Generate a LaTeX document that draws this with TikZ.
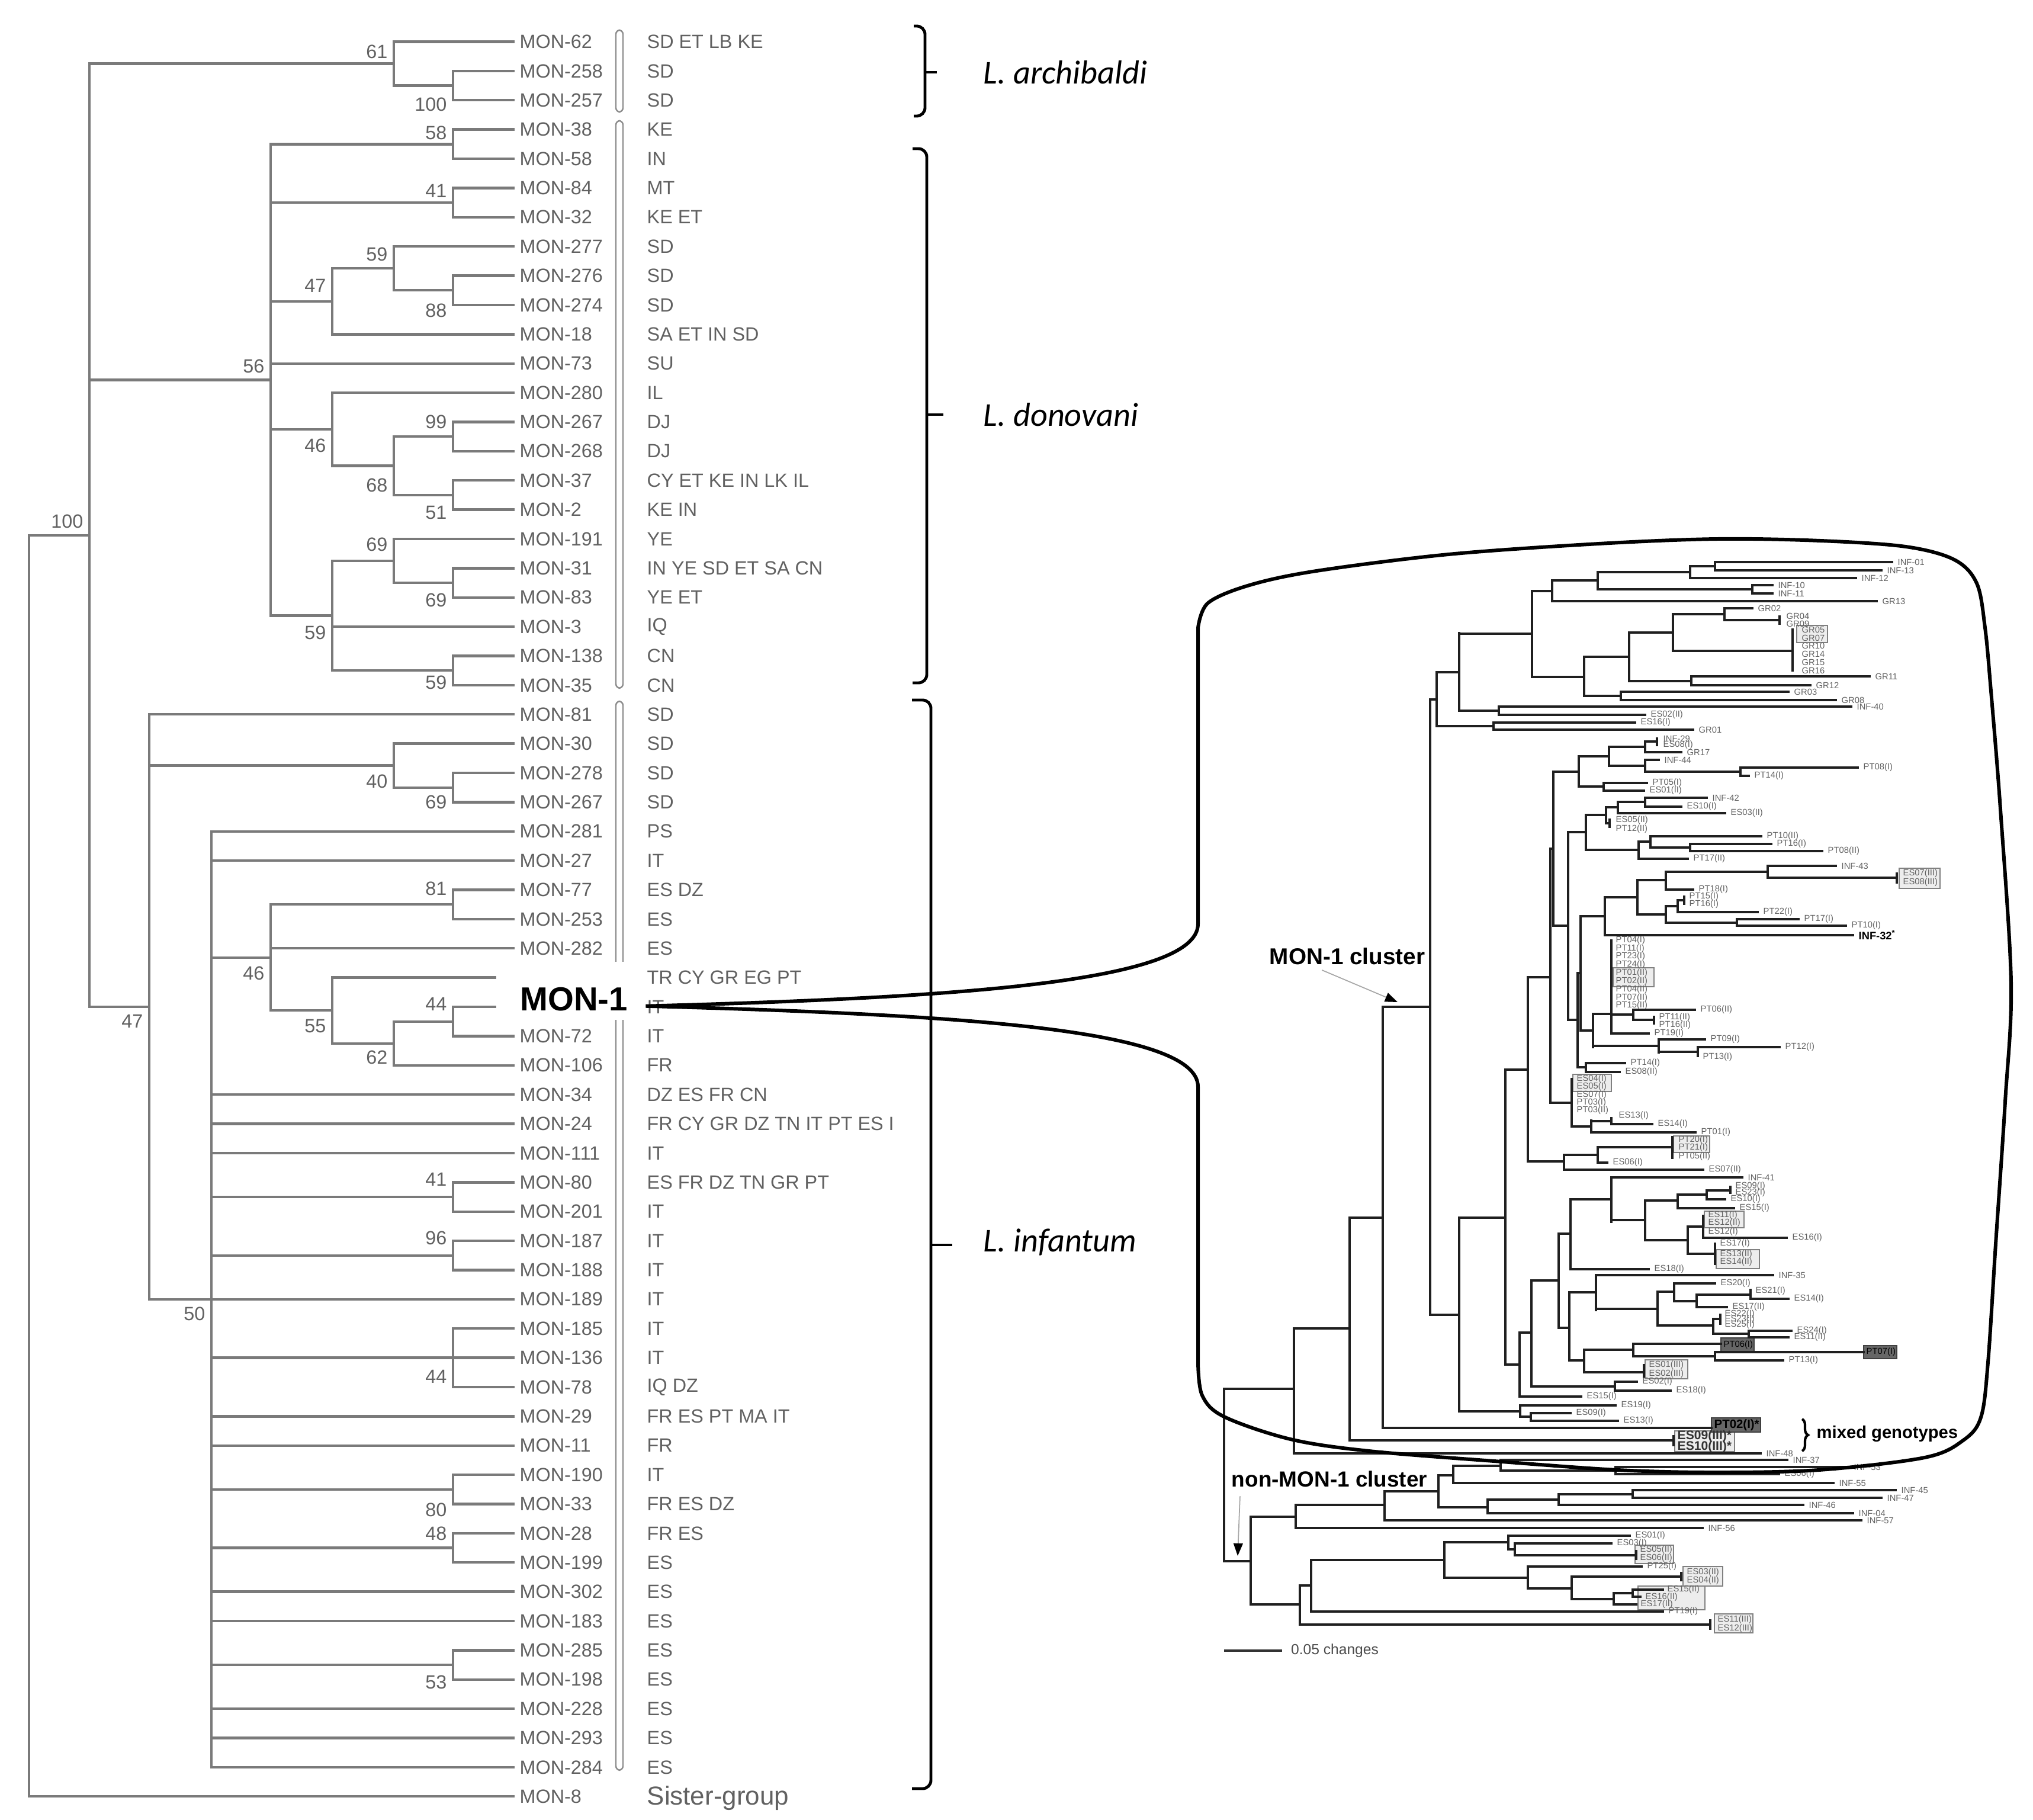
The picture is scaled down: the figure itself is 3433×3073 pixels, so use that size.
\documentclass[tikz,border=0pt]{standalone}
\usepackage{fontspec}
\setmainfont{Liberation Sans}
\newfontfamily\calfont{Carlito}
\usetikzlibrary{arrows.meta,decorations.pathreplacing}

\begin{document}
\begin{tikzpicture}[x=0.01cm,y=-0.01cm,
  br/.style={draw=black!52,line width=1.25pt,line cap=rect},
  rl/.style={draw=black!88,line width=0.95pt,line cap=rect},
  mon/.style={font=\fontsize{9.2}{10}\selectfont,text=black!62,anchor=west,inner sep=0pt},
  bs/.style={font=\fontsize{9.2}{10}\selectfont,text=black!62,anchor=east,inner sep=0pt},
  dbar/.style={draw=black!45,line width=0.7pt,rounded corners=2pt},
  brc/.style={line width=1.4pt,rounded corners=4pt},
  spc/.style={font=\calfont\itshape\fontsize{16}{18}\selectfont,anchor=west,inner sep=0pt},
  rlab/.style={font=\fontsize{4.2}{5}\selectfont,text=black!62,anchor=west,inner sep=0pt},
  lbox/.style={draw=black!50,fill=black!7,line width=0.4pt},
  dbox/.style={draw=black!75,fill=black!60,line width=0.4pt},
  clu/.style={font=\bfseries\fontsize{11}{13}\selectfont,inner sep=0pt},
  ptr/.style={draw=black!35,line width=0.5pt,-{Triangle[length=6pt,width=4.5pt,color=black]}},
  bag/.style={line width=1.7pt}
]
\useasboundingbox (0,0) rectangle (3433,3073);

\begin{scope}[y=-0.4935cm,yshift=-0.2115cm]
  \foreach \a/\b in {0.6/3.4,3.7/23.1,23.55/60.1}
    \draw[dbar] (1040,\a) rectangle (1052,\b);
  \foreach \x/\a/\b in {765/2/3,665/1/2.5,765/4/5,765/6/7,765/9/10,665/8/9.5,561/8.75/11,
    765/14/15,765/16/17,665/14.5/16.5,561/13/15.5,765/19/20,665/18/19.5,765/22/23,561/18.75/22.5,
    457/4.5/20.625,765/26/27,665/25/26.5,765/30/31,765/34/35,665/34.5/36,561/33/35.25,457/30.5/34.125,
    765/40/41,765/42/43,765/45/47,765/50/51,765/52/53,765/56/57,357/28/60,252/24/44,151/1.75/34,49/17.875/61}
    \draw[br] (\x,\a) -- (\x,\b);
  \foreach \a/\b/\r in {665/765/2.5,151/665/1.75,457/765/4.5,457/765/6.5,665/765/9.5,561/665/8.75,
    457/561/9.875,665/765/14.5,665/765/16.5,561/665/15.5,457/561/14.25,665/765/19.5,561/665/18.75,
    561/765/22.5,457/561/20.625,151/457/12.5625,665/765/26.5,252/665/25.75,457/765/30.5,665/765/34.5,
    561/665/35.25,457/561/34.125,357/457/32.3125,357/765/40.5,357/765/42.5,357/765/50.5,357/765/52.5,
    357/765/56.5,151/252/34,49/151/17.875}
    \draw[br] (\a,\r) -- (\b,\r);
  \foreach \r/\p/\nm/\cc in {1/665/MON-62/SD ET LB KE,2/765/MON-258/SD,3/765/MON-257/SD,4/765/MON-38/KE,
    5/765/MON-58/IN,6/765/MON-84/MT,7/765/MON-32/KE ET,8/665/MON-277/SD,9/765/MON-276/SD,10/765/MON-274/SD,
    11/561/MON-18/SA ET IN SD,12/457/MON-73/SU,13/561/MON-280/IL,14/765/MON-267/DJ,15/765/MON-268/DJ,
    16/765/MON-37/CY ET KE IN LK IL,17/765/MON-2/KE IN,18/665/MON-191/YE,19/765/MON-31/IN YE SD ET SA CN,
    20/765/MON-83/YE ET,21/561/MON-3/IQ,22/765/MON-138/CN,23/765/MON-35/CN,24/252/MON-81/SD,25/665/MON-30/SD,
    26/765/MON-278/SD,27/765/MON-267/SD,28/357/MON-281/PS,29/357/MON-27/IT,30/765/MON-77/ES DZ,
    31/765/MON-253/ES,32/457/MON-282/ES,33/561/{}/TR CY GR EG PT,34/765/{}/IT,35/765/MON-72/IT,
    36/665/MON-106/FR,37/357/MON-34/DZ ES FR CN,38/357/MON-24/FR CY GR DZ TN IT PT ES I,39/357/MON-111/IT,
    40/765/MON-80/ES FR DZ TN GR PT,41/765/MON-201/IT,42/765/MON-187/IT,43/765/MON-188/IT,44/252/MON-189/IT,
    45/765/MON-185/IT,46/357/MON-136/IT,47/765/MON-78/IQ DZ,48/357/MON-29/FR ES PT MA IT,49/357/MON-11/FR,
    50/765/MON-190/IT,51/765/MON-33/FR ES DZ,52/765/MON-28/FR ES,53/765/MON-199/ES,54/357/MON-302/ES,
    55/357/MON-183/ES,56/765/MON-285/ES,57/765/MON-198/ES,58/357/MON-228/ES,59/357/MON-293/ES,60/357/MON-284/ES}{
    \draw[br] (\p,\r) -- (867,\r);
    \node[mon] (m\r) at (877,\r) {\nm};
    \node[mon] (c\r) at (1092,\r) {\cc};
  }
  \draw[br] (49,61) -- (867,61);
  \node[mon] (m61) at (877,61) {MON-8};
  \node[mon,font=\fontsize{12.5}{14}\selectfont] (c61) at (1092,61.05) {Sister-group};
  \foreach \x/\r/\v [count=\k] in {665/1.35/61,765/3.15/100,765/4.12/58,765/6.1/41,665/8.27/59,561/9.35/47,
    765/10.2/88,457/12.1/56,765/14.0/99,561/14.8/46,665/16.16/68,765/17.1/51,665/18.2/69,765/20.1/69,
    561/21.2/59,765/22.9/59,151/17.4/100,665/26.3/40,765/27.0/69,765/29.95/81,457/32.85/46,765/33.9/44,
    561/34.65/55,665/35.73/62,252/34.5/47,765/39.9/41,765/41.9/96,357/44.5/50,765/46.65/44,765/51.2/80,
    765/52.0/48,765/57.1/53}
    \node[bs] (bs\k) at (\x-10,\r) {\v};
  \fill[white] (838,32.45) rectangle (1066,34.45);
  \node[font=\bfseries\fontsize{16}{18}\selectfont,inner sep=0pt] (mon1) at (969,33.73) {MON-1};
\end{scope}

\draw[brc] (1543,44) -- (1562,44) -- (1562,196) -- (1543,196);
\draw[brc] (1562,122) -- (1582,122);
\draw[brc] (1541,251) -- (1565,251) -- (1565,1153) -- (1541,1153);
\draw[brc] (1565,700) -- (1593,700);
\draw[brc] (1540,1182) -- (1572,1182) -- (1572,3020) -- (1540,3020);
\draw[brc] (1572,2102) -- (1608,2102);
\node[spc] (sp1) at (1660,122) {L. archibaldi};
\node[spc] (sp2) at (1660,700) {L. donovani};
\node[spc] (sp3) at (1660,2097) {L. infantum};

\foreach \a/\b/\c/\d in {3034/1056/3086/1085,3207/1466/3276/1500,2724/1634/2793/1666,2656/1814/2721/1843,
  2826/1918/2887/1946,2878/2045/2945/2073,2898/2110/2971/2142,2778/2296/2850/2328,2828/2416/2929/2451,
  2761/2609/2826/2640,2842/2645/2909/2678,2766/2678/2879/2718,2895/2725/2960/2757}
  \draw[lbox] (\a,\b) rectangle (\c,\d);
\foreach \a/\b/\c/\d in {2906/2259/2962/2283,3147/2272/3203/2294,2890/2394/2973/2418}
  \draw[dbox] (\a,\b) rectangle (\c,\d);

\foreach \x/\a/\b in {2896/949/963,2854/956/976,2959/988/1002,2698/966/995,2621/980/1015,2587/998/1143,
  2912/1027/1047,3005/1041/1053,2825/1037/1099,3027/1063/1132,2751/1068/1150,2856/1142/1157,2675/1109/1175,
  2737/1168/1182,2464/1069/1200,2531/1193/1207,2426/1135/1226,2522/1220/1232,2415/1181/2220,
  2798/1247/1258,2778/1252/1270,2717/1261/1293,2778/1283/1303,2939/1296/1310,2666/1277/1328,2708/1322/1335,
  2623/1303/1563,2778/1347/1362,2732/1354/1373,2712/1363/1390,2718/1384/1396,2678/1376/1435,2767/1421/1450,
  2787/1412/1431,2854/1425/1437,2648/1405/1722,
  2985/1462/1482,3203/1475/1490,2813/1472/1502,2765/1486/1544,2844/1514/1526,2833/1520/1540,2933/1552/1563,
  2813/1530/1558,2710/1515/1579,2669/1547/1740,2721/1588/1745,2758/1705/1722,2793/1717/1728,2690/1712/1768,
  2801/1755/1777,2867/1768/1783,2664/1643/1802,2678/1795/1810,2618/1433/1862,2654/1822/1902,2721/1888/1898,
  2687/1892/1912,2580/1650/1961,2824/1920/1955,2698/1937/1963,2641/1950/1975,
  2542/1806/2304,2566/2250/2358,2586/2162/2341,2632/2083/2242,2652/2025/2143,2721/1988/2063,2778/2027/2094,
  2833/2017/2040,2882/2010/2025,2922/2004/2014,2850/2071/2117,2876/2053/2090,2896/2100/2134,2650/2182/2297,
  2695/2153/2212,2799/2181/2238,2827/2167/2197,2865/2186/2207,2956/2178/2193,2893/2227/2252,2905/2220/2235,
  2953/2247/2258,2675/2279/2317,2758/2269/2290,2896/2283/2297,2776/2305/2325,2727/2333/2348,2567/2373/2392,
  2585/2386/2399,2464/2056/2383,2335/1700/2411,2279/2056/2432,2826/2425/2440,2185/2243/2454,2067/2345/2636,
  2112/2561/2709,2188/2541/2580,2338/2518/2567,2429/2491/2545,2454/2475/2504,2534/2465/2483,2728/2477/2489,
  2512/2532/2555,2632/2523/2541,2757/2516/2529,2195/2677/2743,2888/2736/2750,2214/2634/2721,2439/2604/2664,
  2547/2593/2616,2558/2606/2626,2763/2619/2632,2580/2645/2682,2654/2662/2700,2839/2656/2668,2725/2690/2709,
  2757/2684/2696}
  \draw[rl] (\x,\a) -- (\x,\b);
\foreach \a/\b/\y in {2854/2896/956,2698/2854/966,2698/2959/995,2621/2698/980,2587/2621/998,2464/2587/1070,
  2825/2912/1037,2751/2825/1068,2825/3027/1099,2675/2751/1109,2751/2856/1150,2675/2737/1175,2587/2675/1143,
  2464/2531/1200,2426/2464/1135,2426/2522/1226,2415/2426/1181,2912/3005/1047,
  2778/2798/1252,2717/2778/1261,2717/2778/1293,2778/2939/1303,2666/2717/1277,2666/2708/1328,2623/2666/1303,
  2732/2778/1354,2712/2732/1363,2712/2718/1390,2678/2712/1376,2678/2767/1435,2767/2787/1421,2787/2854/1431,
  2648/2678/1405,2623/2648/1563,2618/2623/1433,
  2985/3203/1482,2813/2985/1472,2765/2813/1486,2833/2844/1520,2813/2833/1530,2813/2933/1558,2765/2813/1544,
  2710/2765/1515,2669/2710/1547,2721/2758/1713,2758/2793/1722,2690/2721/1712,2690/2801/1766,2801/2867/1776,
  2669/2690/1740,2664/2669/1643,2664/2678/1802,2648/2664/1722,2618/2654/1862,2654/2687/1902,2687/2721/1893,
  2580/2618/1650,2698/2824/1937,2641/2698/1950,2580/2641/1961,2542/2580/1806,
  2464/2542/2056,2542/2566/2304,2566/2586/2250,2586/2632/2162,2632/2652/2083,2652/2721/2025,2721/2778/2060,
  2778/2833/2027,2833/2882/2017,2882/2922/2010,2778/2850/2094,2850/2876/2071,2850/2896/2117,2632/2650/2242,
  2650/2695/2182,2695/2799/2210,2799/2827/2181,2827/2865/2197,2865/2956/2186,2799/2893/2238,2893/2905/2227,
  2893/2953/2252,2650/2675/2297,2675/2758/2279,2758/2896/2290,2675/2776/2317,2586/2727/2341,2464/2567/2383,
  2567/2585/2392,2415/2464/2220,2335/2415/1700,2279/2335/2056,2279/2826/2432,2185/2279/2243,2067/2185/2345,
  2067/2112/2636,2758/2906/2269,2896/3147/2283,2335/2890/2411,
  2112/2188/2561,2188/2338/2541,2338/2429/2518,2429/2454/2491,2454/2534/2475,2534/2728/2483,2429/2512/2545,
  2512/2632/2532,2632/2757/2523,2112/2195/2709,2195/2214/2677,2214/2439/2634,2439/2547/2604,2547/2558/2616,
  2558/2763/2626,2439/2580/2664,2580/2654/2682,2654/2839/2662,2654/2725/2700,2725/2757/2690,2757/2808/2684,
  2757/2770/2696,2725/2763/2709,2195/2888/2743}
  \draw[rl] (\a,\y) -- (\b,\y);
\foreach \a/\b/\y/\t [count=\k] in {2896/3195/949/INF-01,2896/3177/963/INF-13,2854/3134/976/INF-12,
  2959/2993/988/INF-10,2959/2993/1002/INF-11,2621/3169/1015/GR13,2912/2959/1027/GR02,2856/3157/1142/GR11,
  2856/3057/1157/GR12,2737/3020/1168/GR03,2737/3100/1182/GR08,2531/3126/1193/INF-40,2531/2778/1207/ES02(II),
  2522/2761/1220/ES16(I),2522/2859/1232/GR01,2778/2839/1270/GR17,2778/2801/1283/INF-44,2939/3137/1296/PT08(I),
  2939/2953/1310/PT14(I),2708/2781/1322/PT05(I),2708/2776/1335/ES01(II),2778/2882/1347/INF-42,
  2778/2839/1362/ES10(I),2732/2913/1373/ES03(II),2787/2974/1412/PT10(II),2854/2991/1425/PT16(I),
  2854/3077/1437/PT08(II),2767/2850/1450/PT17(II),2985/3100/1462/INF-43,2813/2859/1502/PT18(I),
  2833/2968/1540/PT22(I),2933/3037/1552/PT17(I),2933/3117/1563/PT10(I),2758/2862/1705/PT06(II),
  2721/2784/1745/PT19(I),2801/2879/1755/PT09(I),2867/3005/1768/PT12(I),2678/2744/1795/PT14(I),
  2678/2735/1810/ES08(II),2721/2790/1898/ES14(I),2687/2863/1912/PT01(I),2698/2714/1963/ES06(I),
  2641/2876/1975/ES07(II),2721/2942/1988/INF-41,2882/2913/2025/ES10(I),2833/2928/2040/ES15(I),
  2876/3017/2090/ES16(I),2652/2784/2143/ES18(I),2695/2994/2153/INF-35,2827/2896/2167/ES20(I),
  2956/3020/2193/ES14(I),2865/2916/2207/ES17(II),2953/3025/2247/ES24(I),2953/3020/2258/ES11(II),
  2896/3011/2297/PT13(I),2727/2764/2333/ES02(I),2727/2821/2348/ES18(I),2566/2670/2358/ES15(I),
  2567/2728/2373/ES19(I),2585/2652/2386/ES09(I),2585/2732/2399/ES13(I),2185/2973/2454/INF-48,
  2534/3018/2465/INF-37,2728/3121/2477/INF-53,2728/3004/2489/ES06(I),2454/3096/2504/INF-55,
  2757/3201/2516/INF-45,2757/3177/2529/INF-47,2632/3045/2541/INF-46,2512/3129/2555/INF-04,
  2338/3143/2567/INF-57,2188/2875/2580/INF-56,2547/2752/2593/ES01(I),2558/2721/2606/ES03(I),
  2580/2772/2645/PT25(I),2214/2808/2721/PT19(I)}
  \draw[rl] (\a,\y) -- (\b,\y) node[rlab,xshift=0.08cm] (lf\k) {\t};
\draw[rl] (2710,1579) -- (3129,1579) node[rlab,xshift=0.08cm,text=black,font=\bfseries\fontsize{5.2}{6}\selectfont] (inf32) {INF-32\textsuperscript{*}};
\foreach \x/\y/\t [count=\k] in {3016/1040/GR04,3016/1053/GR09,3042/1063/GR05,3042/1077/GR07,3042/1090/GR10,
  3042/1104/GR14,3042/1118/GR15,3042/1132/GR16,2808/1247/INF-29,2808/1258/ES08(I),2728/1385/ES05(II),
  2728/1400/PT12(II),3213/1475/ES07(III),3213/1490/ES08(III),2852/1514/PT15(I),2852/1527/PT16(I),
  2728/1588/PT04(I),2728/1602/PT11(I),2728/1615/PT23(I),2728/1629/PT24(I),2728/1643/PT01(II),
  2728/1657/PT02(II),2728/1671/PT04(II),2728/1685/PT07(II),2728/1698/PT15(II),2801/1718/PT11(II),
  2801/1731/PT16(II),2875/1785/PT13(I),2662/1822/ES04(I),2662/1835/ES05(I),2662/1849/ES07(I),
  2662/1862/PT03(I),2662/1875/PT03(II),2733/1884/ES13(I),2834/1925/PT20(I),2834/1938/PT21(I),
  2834/1953/PT05(II),2930/2003/ES09(I),2930/2014/ES23(I),2884/2052/ES11(I),2884/2065/ES12(II),
  2884/2080/ES12(I),2904/2100/ES17(I),2904/2118/ES13(II),2904/2131/ES14(II),2964/2180/ES21(I),
  2912/2219/ES22(I),2912/2228/ES23(I),2912/2237/ES25(I),2784/2305/ES01(III),2784/2320/ES02(III),
  2769/2617/ES05(II),2769/2631/ES06(II),2848/2655/ES03(II),2848/2669/ES04(II),2815/2684/ES15(II),
  2778/2697/ES16(II),2770/2709/ES17(II),2900/2735/ES11(III),2900/2750/ES12(III)}
  \node[rlab] (pl\k) at (\x,\y) {\t};
\node[rlab,text=black] (pt06) at (2910,2271) {PT06(I)};
\node[rlab,text=black] (pt07) at (3151,2283) {PT07(I)};
\node[rlab,text=black,font=\bfseries\fontsize{5.8}{6}\selectfont] (pt02) at (2894,2406) {PT02(I)*};
\node[rlab,text=black!80,font=\bfseries\fontsize{6}{6}\selectfont] (es09) at (2832,2425) {ES09(III)*};
\node[rlab,text=black!80,font=\bfseries\fontsize{6}{6}\selectfont] (es10) at (2832,2443) {ES10(III)*};

\node[clu] (mc) at (2275,1615) {MON-1 cluster};
\coordinate (mct) at (2360,1692);
\draw[ptr] ([xshift=0.89cm,yshift=-0.08cm]mc.south west) -- (mct);
\node[clu,font=\bfseries\fontsize{10.5}{12}\selectfont] (nc) at (2245,2497) {non-MON-1 cluster};
\coordinate (nct) at (2090,2627);
\draw[ptr] ([xshift=-1.51cm,yshift=-0.15cm]nc.south) -- (nct);
\draw[line width=1.2pt,black!80] (2067,2787) -- (2165,2787)
  node[anchor=west,font=\fontsize{7}{8}\selectfont,text=black!70,inner sep=0pt,xshift=0.13cm] (sc) {0.05 changes};
\draw[line width=1.2pt,decorate,decoration={brace,amplitude=0.1cm}] (3043,2396) -- (3043,2450);
\node[font=\bfseries\fontsize{8.3}{9}\selectfont,anchor=west,inner sep=0pt] (mg) at (3067,2421) {mixed genotypes};

\draw[bag] ([xshift=0.3cm,yshift=-0.12cm]mon1.east) .. controls (1600,1685) and (2023,1660) .. (2023,1560)
  -- plot[smooth,tension=0.55] coordinates {(2023,1060) (2040,1018) (2110,988) (2223,964) (2446,936) (2700,918)
  (2900,910) (3074,913) (3218,923) (3300,945) (3338,985) (3352,1060) (3362,1167) (3378,1367) (3396,1660)
  (3386,1860) (3370,2100) (3357,2300) (3345,2393) (3315,2432) (3250,2461) (3071,2482) (2893,2486) (2732,2482)
  (2536,2468) (2312,2450) (2179,2430) (2067,2392) (2030,2356) (2023,2300)}
  -- (2023,1835) .. controls (2023,1735) and (1600,1713) .. ([xshift=0.3cm,yshift=-0.12cm]mon1.east);
\end{tikzpicture}
\end{document}
